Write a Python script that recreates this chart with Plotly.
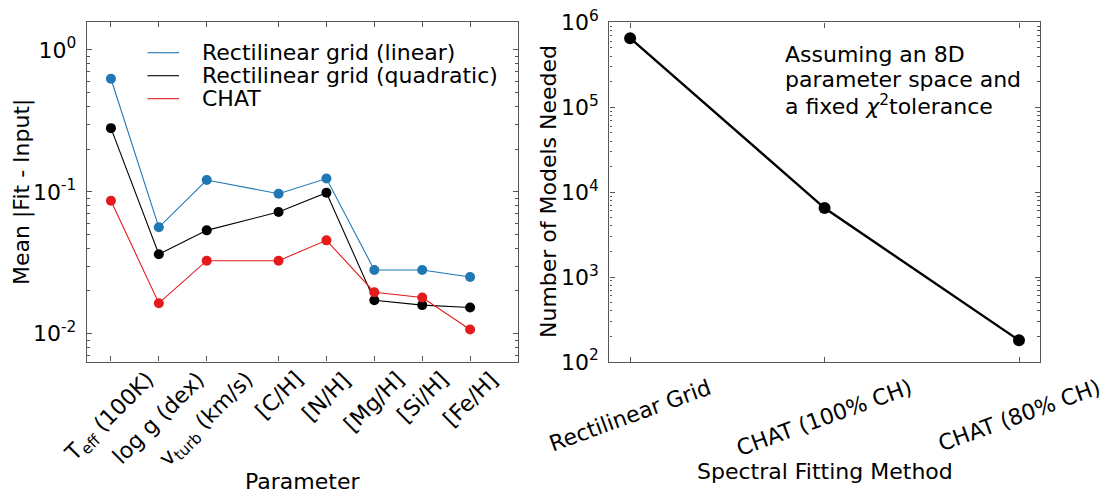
import plotly.graph_objects as go

# ---- data -------------------------------------------------------------
params = ["T<sub>eff</sub> (100K)", "log g (dex)", "v<sub>turb</sub> (km/s)",
          "[C/H]", "[N/H]", "[Mg/H]", "[Si/H]", "[Fe/H]"]
param_x = [0, 1, 2, 3.5, 4.5, 5.5, 6.5, 7.5]

err_linear = [0.627, 0.0562, 0.121, 0.097, 0.124, 0.0281, 0.0281, 0.0251]
err_quadratic = [0.281, 0.0363, 0.0535, 0.0721, 0.0986, 0.0172, 0.0159, 0.0153]
err_chat = [0.0866, 0.0164, 0.0327, 0.0327, 0.0455, 0.0196, 0.0180, 0.0107]

series_names = ["Rectilinear grid (linear)", "Rectilinear grid (quadratic)", "CHAT"]
series_colors = ["#1f77b4", "#000000", "#e41a1c"]

methods = ["Rectilinear Grid", "CHAT (100% CH)", "CHAT (80% CH)"]
models_needed = [6.5e5, 6.5e3, 1.8e2]

note_lines = ["Assuming an 8D", "parameter space and",
              "a fixed <i>χ</i><sup>2</sup>tolerance"]

# ---- layout helpers ---------------------------------------------------
W, H = 1107, 498
FONT = "DejaVu Sans"
FS = 22
FRAME = "#555555"


def px(xp):
    return xp / W


def py(yp):
    return 1 - yp / H


def minor_vals(lo, hi):
    vals = []
    for d in range(lo, hi + 1):
        for k in range(2, 10):
            vals.append(k * 10 ** d)
    return vals


fig = go.Figure()

# left panel: residuals per parameter
for name, color, vals in zip(series_names, series_colors,
                             [err_linear, err_quadratic, err_chat]):
    fig.add_trace(go.Scatter(
        x=param_x, y=vals, mode="lines+markers", name=name,
        line=dict(color=color, width=1.1),
        marker=dict(color=color, size=10, line=dict(width=0)),
        xaxis="x", yaxis="y", showlegend=False, hoverinfo="skip"))

# right panel: model counts
fig.add_trace(go.Scatter(
    x=list(range(len(methods))), y=models_needed, mode="lines+markers",
    line=dict(color="black", width=2.4),
    marker=dict(color="black", size=12),
    xaxis="x2", yaxis="y2", showlegend=False, hoverinfo="skip"))

axis_common = dict(showline=True, linecolor=FRAME, linewidth=1.4, mirror="allticks",
                   ticks="inside", ticklen=5, tickwidth=1, tickcolor=FRAME,
                   showgrid=False, zeroline=False, automargin=False,
                   tickfont=dict(family=FONT, size=FS, color="black"))

fig.update_layout(
    width=W, height=H, margin=dict(l=0, r=0, t=0, b=0, autoexpand=False),
    paper_bgcolor="white", plot_bgcolor="white",
    font=dict(family=FONT, size=FS, color="black"),
    xaxis=dict(domain=[px(87), px(518)], range=[-0.5, 8.5],
               tickvals=param_x, showticklabels=False, anchor="y", **axis_common),
    yaxis=dict(domain=[py(361.5), py(22)], type="log", range=[-2.196, 0.197],
               tickvals=[0.01, 0.1, 1],
               ticktext=["10<sup>-2</sup>", "10<sup>-1</sup>", "10<sup>0</sup>"],
               ticklabelstandoff=5, anchor="x",
               minor=dict(tickvals=minor_vals(-3, 0), ticks="inside", ticklen=2.5,
                          tickcolor=FRAME, showgrid=False),
               **axis_common),
    xaxis2=dict(domain=[px(609.3), px(1040)], range=[-0.107, 2.108],
                tickvals=[0, 1, 2], showticklabels=False, anchor="y2", **axis_common),
    yaxis2=dict(domain=[py(362), py(22.3)], type="log", range=[2, 6],
                tickvals=[1e2, 1e3, 1e4, 1e5, 1e6],
                ticktext=["10<sup>%d</sup>" % k for k in range(2, 7)],
                ticklabelstandoff=5, anchor="x2",
                minor=dict(tickvals=minor_vals(2, 5), ticks="inside", ticklen=2.5,
                           tickcolor=FRAME, showgrid=False),
                **axis_common),
)

ann = []
# legend of the left panel
for i, (name, color) in enumerate(zip(series_names, series_colors)):
    yrow = 52.7 + i * 23
    fig.add_shape(type="line", xref="paper", yref="paper",
                  x0=px(147.5), x1=px(179), y0=py(yrow), y1=py(yrow),
                  line=dict(color=color, width=1.1))
    ann.append(dict(text=name, x=px(200), y=py(yrow), xref="paper", yref="paper",
                    xanchor="left", yanchor="middle", showarrow=False))

# rotated category labels
for xv, lab in zip(param_x, params):
    ann.append(dict(text=lab, x=xv, xref="x", y=py(364), yref="paper",
                    xanchor="center", yanchor="top", textangle=-45, showarrow=False))
for i, lab in enumerate(methods):
    ann.append(dict(text=lab, x=i, xref="x2", y=py(372), yref="paper",
                    xanchor="center", yanchor="top", textangle=-20, showarrow=False))

# axis titles
ann += [
    dict(text="Parameter", x=px(302.5), y=py(481), xref="paper", yref="paper",
         xanchor="center", yanchor="middle", showarrow=False),
    dict(text="Spectral Fitting Method", x=px(824.5), y=py(471), xref="paper",
         yref="paper", xanchor="center", yanchor="middle", showarrow=False),
    dict(text="Mean |Fit - Input|", x=px(22), y=py(192), xref="paper", yref="paper",
         xanchor="center", yanchor="middle", textangle=-90, showarrow=False),
    dict(text="Number of Models Needed", x=px(548), y=py(192), xref="paper",
         yref="paper", xanchor="center", yanchor="middle", textangle=-90,
         showarrow=False),
]

# note in the right panel
for i, line in enumerate(note_lines):
    ann.append(dict(text=line, x=px(783), y=py(54 + i * 25.7), xref="paper",
                    yref="paper", xanchor="left", yanchor="middle", showarrow=False))

fig.update_layout(annotations=ann)
fig.write_html("out.html")
